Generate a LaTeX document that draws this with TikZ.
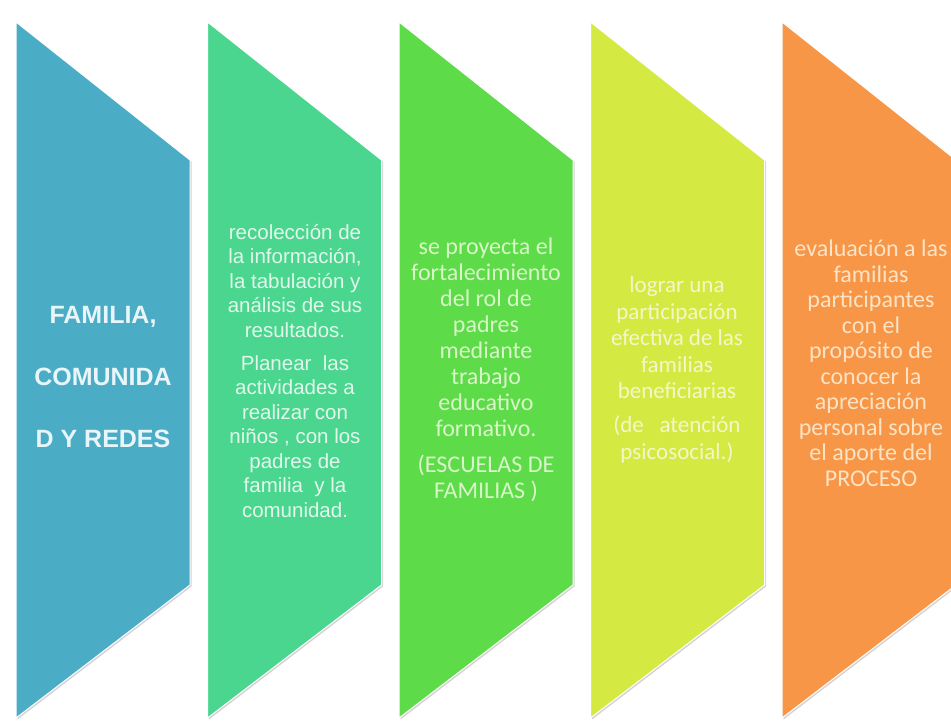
\documentclass[tikz,border=0pt]{standalone}
\usepackage{fontspec}
\setmainfont{Liberation Sans}
\newfontfamily\calfont{Carlito}
\definecolor{cA}{RGB}{75,172,198}
\definecolor{cB}{RGB}{74,214,142}
\definecolor{cC}{RGB}{93,219,72}
\definecolor{cD}{RGB}{212,234,66}
\definecolor{cE}{RGB}{247,150,70}
\definecolor{tA}{RGB}{232,246,250}
\definecolor{tB}{RGB}{226,247,236}
\definecolor{tC}{RGB}{217,246,201}
\definecolor{tD}{RGB}{242,248,200}
\definecolor{tE}{RGB}{252,227,198}
\definecolor{shadowc}{RGB}{215,210,212}
\tikzset{
  chev/.style={fill=#1, draw=white, line width=1pt},
  txt/.style={align=center, inner sep=0pt, anchor=center}
}
\begin{document}
\begin{tikzpicture}[x=1pt,y=-1pt]
\path[use as bounding box, clip] (0,0) rectangle (951,721);
\fill[white] (0,0) rectangle (951,721);
\foreach \i/\col in {0/cA,1/cB,2/cC,3/cD,4/cE} {
  \pgfmathsetmacro\L{16+191.5*\i}
  \pgfmathsetmacro\R{\L+174}
  \fill[shadowc] (\L+1.5,23.5) -- (\R+1.5,161.5) -- (\R+1.5,586.5) -- (\L+1.5,719.5) -- cycle;
  \path[chev=\col] (\L,22) -- (\R,160) -- (\R,585) -- (\L,718) -- cycle;
}
\node[txt, text=tA, font=\bfseries\fontsize{25}{62}\selectfont] (t1) at (103,377)
  {FAMILIA,\\COMUNIDA\\D Y REDES};
\node[txt, text=tB, font=\fontsize{20.5}{24.5}\selectfont] (t2) at (295,371)
  {recolección de\\la información,\\la tabulación y\\análisis de sus\\resultados.\\[8.5pt]
   Planear\ \ las\\actividades a\\realizar con\\niños , con los\\padres de\\familia\ \ y la\\comunidad.};
\node[txt, text=tC, font=\calfont\fontsize{24}{26}\selectfont] (t3) at (486,370)
  {se proyecta el\\fortalecimiento\\del rol de\\padres\\mediante\\trabajo\\educativo\\formativo.\\[10pt]
   (ESCUELAS DE\\FAMILIAS )};
\node[txt, text=tD, font=\calfont\fontsize{23}{26.5}\selectfont] (t4) at (677,370)
  {lograr una\\participación\\efectiva de las\\familias\\beneficiarias\\[7.5pt]
   (de\ \ \ atención\\psicosocial.)};
\node[txt, text=tE, font=\calfont\fontsize{24}{25.5}\selectfont] (t5) at (871,363)
  {evaluación a las\\familias\\participantes\\con el\\propósito de\\conocer la\\apreciación\\personal sobre\\el aporte del\\PROCESO};
\end{tikzpicture}
\end{document}
